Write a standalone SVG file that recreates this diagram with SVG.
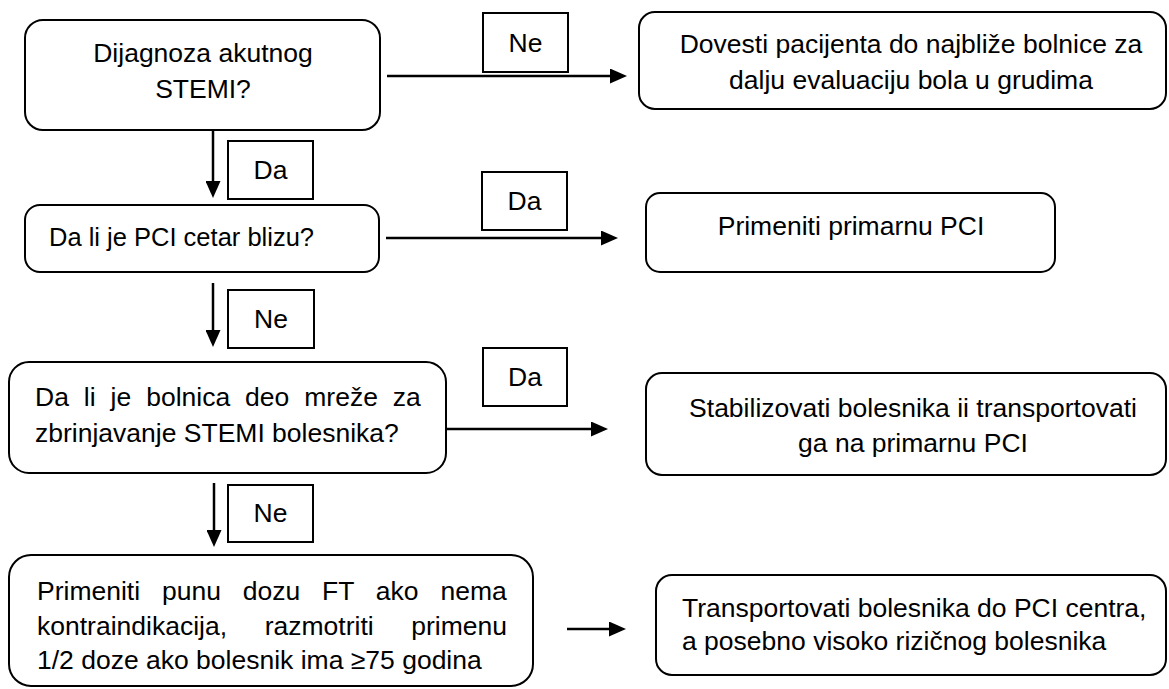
<svg xmlns="http://www.w3.org/2000/svg" width="1169" height="689" viewBox="0 0 1169 689">
<style>
.node{fill:#fff;stroke:#000;stroke-width:2}
.lbl{fill:#fff;stroke:#000;stroke-width:2}
.t{font-family:"Liberation Sans",Arial,sans-serif;font-size:26.5px;fill:#000}
.c{text-anchor:middle}
.edge{stroke:#000;stroke-width:2.5;fill:none}
</style>
<defs>
<marker id="ah" markerUnits="userSpaceOnUse" markerWidth="17" markerHeight="15" refX="11" refY="7.5" orient="auto">
<path d="M0,0 L17,7.5 L0,15 z" fill="#000"/>
</marker>
</defs>
<rect width="1169" height="689" fill="#fff"/>
<g id="connectors">
<line class="edge" x1="387" y1="76" x2="621" y2="76" marker-end="url(#ah)"/>
<line class="edge" x1="386" y1="238" x2="612" y2="238" marker-end="url(#ah)"/>
<line class="edge" x1="447" y1="429" x2="602" y2="429" marker-end="url(#ah)"/>
<line class="edge" x1="567" y1="629" x2="620" y2="629" marker-end="url(#ah)"/>
<line class="edge" x1="213" y1="130" x2="213" y2="192" stroke-width="2" marker-end="url(#ah)"/>
<line class="edge" x1="213" y1="283" x2="213" y2="341" stroke-width="2" marker-end="url(#ah)"/>
<line class="edge" x1="214" y1="483" x2="214" y2="541" stroke-width="2" marker-end="url(#ah)"/>
</g>
<g id="lbl-ne1"><rect class="lbl" x="483" y="13" width="85" height="59"/><text class="t c" x="525.5" y="52">Ne</text></g>
<g id="lbl-da1"><rect class="lbl" x="228" y="141" width="85" height="58"/><text class="t c" x="270.5" y="179">Da</text></g>
<g id="lbl-da2"><rect class="lbl" x="482" y="172" width="85" height="58"/><text class="t c" x="524.5" y="210">Da</text></g>
<g id="lbl-ne2"><rect class="lbl" x="228" y="290" width="86" height="58"/><text class="t c" x="271" y="328">Ne</text></g>
<g id="lbl-da3"><rect class="lbl" x="483" y="348" width="84" height="58"/><text class="t c" x="525" y="386">Da</text></g>
<g id="lbl-ne3"><rect class="lbl" x="228" y="485" width="85" height="57"/><text class="t c" x="270.5" y="522">Ne</text></g>
<g id="n1"><rect class="node" x="25" y="20" width="355" height="110" rx="18"/>
<text class="t c" x="203" y="62">Dijagnoza akutnog</text><text class="t c" x="203" y="98">STEMI?</text></g>
<g id="n2"><rect class="node" x="639" y="12" width="527" height="97" rx="16"/>
<text class="t c" x="911" y="53">Dovesti pacijenta do najbliže bolnice za</text><text class="t c" x="911" y="89">dalju evaluaciju bola u grudima</text></g>
<g id="n3"><rect class="node" x="25" y="205" width="354" height="67" rx="15"/>
<text class="t" x="49" y="246" style="font-size:25.5px">Da li je PCI cetar blizu?</text></g>
<g id="n4"><rect class="node" x="646" y="193" width="409" height="79" rx="14"/>
<text class="t c" x="851" y="235">Primeniti primarnu PCI</text></g>
<g id="n5"><rect class="node" x="9" y="362" width="437" height="111" rx="20"/>
<text class="t" x="35" y="406" word-spacing="7.6">Da li je bolnica deo mreže za</text>
<text class="t" x="35" y="442">zbrinjavanje STEMI bolesnika?</text></g>
<g id="n6"><rect class="node" x="646" y="373" width="520" height="102" rx="16"/>
<text class="t c" x="913" y="417">Stabilizovati bolesnika ii transportovati</text><text class="t c" x="913" y="452">ga na primarnu PCI</text></g>
<g id="n7"><rect class="node" x="9" y="555" width="524" height="131" rx="22"/>
<text class="t" x="37" y="600" word-spacing="14.5">Primeniti punu dozu FT ako nema</text>
<text class="t" x="37" y="635" word-spacing="30.3">kontraindikacija, razmotriti primenu</text>
<text class="t" x="37" y="669">1/2 doze ako bolesnik ima ≥75 godina</text></g>
<g id="n8"><rect class="node" x="656" y="575" width="510" height="100" rx="16"/>
<text class="t" x="682" y="617">Transportovati bolesnika do PCI centra,</text><text class="t" x="682" y="650">a posebno visoko rizičnog bolesnika</text></g>
</svg>
